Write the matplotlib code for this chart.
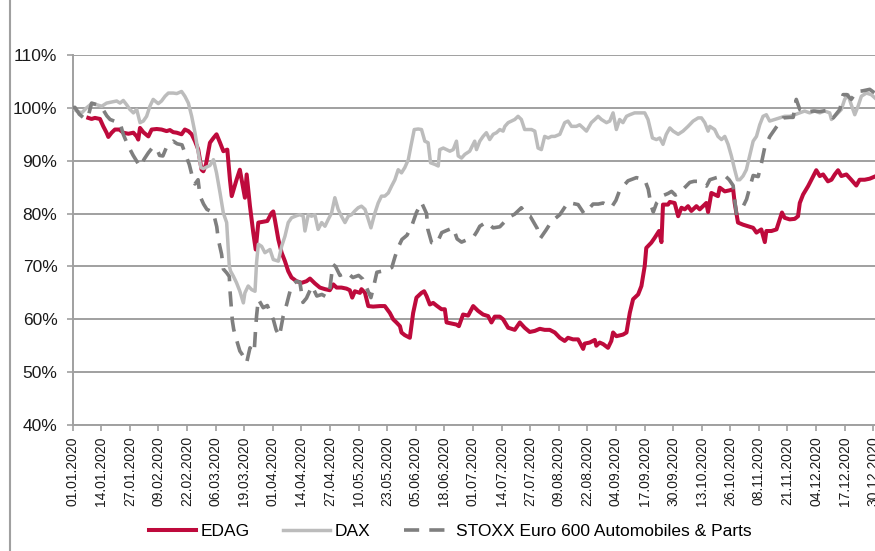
import matplotlib
matplotlib.use("Agg")
import matplotlib.pyplot as plt
import matplotlib.dates as mdates
from matplotlib.lines import Line2D
import numpy as np
import pandas as pd

plt.rcParams['font.family'] = ['Liberation Sans', 'DejaVu Sans']

# ---- data (day offset from 01.01.2020, value in %) ----
edag_days = [7.1, 8.6, 10.1, 12.4, 13.9, 15.4, 16.2, 17.7, 19.2, 21.2, 23.0, 25.3, 27.6, 29.1, 29.8, 30.6,
             32.1, 34.4, 35.9, 38.2, 40.4, 42.7, 44.2, 45.7, 47.3, 49.5, 51.0, 52.6, 54.1, 55.6, 57.1, 58.6,
             59.4, 60.6, 62.4, 64.0, 65.4, 67.0, 68.5, 70.3, 71.5, 72.3, 74.5, 76.0, 77.6, 78.3, 79.1, 80.6,
             82.1, 83.2, 84.4, 85.9, 88.5, 90.4, 91.2, 91.9, 93.5, 95.0, 96.5, 98.0, 99.5, 101.8, 104.1, 106.3,
             107.9, 110.1, 112.4, 114.7, 116.9, 118.5, 120.0, 122.2, 124.5, 126.0, 127.1, 128.3, 130.6, 131.3,
             132.9, 134.4, 136.6, 139.7, 141.9, 144.2, 145.7, 147.2, 148.8, 149.5, 151.0, 153.3, 154.8, 156.3,
             158.6, 159.8, 160.9, 162.4, 163.9, 165.4, 167.7, 169.2, 170.0, 172.2, 174.5, 175.6, 177.5, 179.8,
             182.1, 184.3, 186.6, 188.9, 190.4, 191.9, 194.2, 195.7, 198.0, 201.0, 203.3, 205.5, 207.8, 210.1,
             212.4, 214.6, 216.9, 219.2, 221.5, 223.7, 225.2, 227.5, 229.8, 232.1, 232.8, 235.1, 237.4, 238.1,
             239.6, 241.2, 243.4, 244.9, 245.7, 247.2, 250.2, 251.8, 253.3, 254.8, 257.1, 258.6, 260.1, 260.8,
             263.1, 264.6, 266.6, 267.7, 268.4, 270.7, 271.5, 273.7, 275.3, 276.8, 278.3, 279.8, 281.3, 283.6,
             285.1, 286.6, 288.1, 288.9, 290.4, 291.9, 293.4, 294.2, 296.5, 298.7, 300.3, 301.0, 302.5, 304.8,
             307.1, 309.4, 310.9, 313.1, 314.7, 315.4, 317.7, 320.0, 321.5, 322.5, 323.7, 326.0, 328.3, 329.8,
             330.6, 332.1, 334.4, 335.9, 338.1, 339.7, 341.2, 343.4, 345.0, 346.5, 348.0, 349.5, 351.8, 354.0,
             356.3, 357.8, 360.1, 362.4, 364.7]
edag_vals = [98.1, 97.9, 98.1, 97.9, 96.5, 95.3, 94.5, 95.3, 95.9, 95.9, 95.3, 95.1, 95.3, 94.6, 94.0, 96.2,
             95.4, 94.6, 95.9, 96.0, 95.9, 95.6, 95.8, 95.4, 95.3, 95.0, 95.9, 95.6, 95.0, 93.7, 92.1, 88.3,
             88.0, 89.3, 93.4, 94.3, 95.0, 93.4, 91.8, 92.1, 86.4, 83.3, 86.4, 88.3, 84.6, 83.0, 87.4, 81.4,
             76.4, 73.2, 78.3, 78.4, 78.6, 80.1, 80.4, 78.9, 75.1, 72.6, 71.0, 69.1, 67.9, 67.2, 66.9, 67.2,
             67.7, 66.8, 66.0, 65.7, 65.5, 66.6, 66.0, 66.0, 65.8, 65.5, 64.1, 65.3, 65.0, 65.7,
             65.0, 62.5, 62.4, 62.5, 62.5, 61.2, 60.0, 59.4, 58.7, 57.5, 57.0, 56.5, 61.2, 64.1,
             65.0, 65.3, 64.4, 62.8, 63.1, 62.6, 61.9, 61.9, 59.4, 59.2, 59.0, 58.7, 60.9, 60.7,
             62.5, 61.6, 60.9, 60.6, 59.4, 60.5, 60.5, 60.0, 58.4, 58.0, 59.4, 58.4, 57.6, 57.8,
             58.2, 58.0, 58.0, 57.5, 56.5, 55.9, 56.5, 56.2, 56.2, 54.4, 55.4, 55.6, 56.1, 55.0,
             55.6, 55.3, 54.6, 55.9, 57.5, 56.8, 57.1, 57.5, 61.2, 63.8, 64.7, 66.3, 70.1, 73.5,
             74.5, 75.4, 76.7, 74.6, 81.7, 81.7, 82.2, 82.0, 79.5, 81.1, 80.8, 81.4, 80.5, 81.4,
             80.8, 81.4, 82.0, 80.3, 83.9, 83.6, 83.3, 84.9, 84.2, 84.4, 84.6, 82.0, 78.3, 77.9,
             77.6, 77.3, 76.4, 77.0, 74.6, 76.7, 76.7, 77.0, 78.9, 80.2, 79.2, 78.9, 79.0, 79.5,
             82.0, 83.6, 85.2, 86.4, 88.2, 87.1, 87.4, 86.1, 86.4, 87.4, 88.2, 87.1, 87.4, 86.4,
             85.3, 86.4, 86.4, 86.6, 87.0]

dax_days = [0.0, 1.8, 4.1, 6.3, 8.6, 10.9, 13.2, 15.4, 17.7, 20.0, 21.5, 23.0, 24.5, 26.0, 27.6, 29.1,
            30.6, 32.1, 33.6, 35.1, 36.6, 38.9, 40.4, 42.0, 43.5, 45.7, 47.3, 49.5, 51.0, 52.6, 54.1, 55.6,
            57.1, 58.3, 59.4, 60.9, 62.4, 64.0, 65.4, 67.0, 68.5, 70.0, 71.2, 71.8, 73.0, 74.5, 76.0, 77.6,
            78.3, 79.8, 81.4, 82.9, 83.6, 84.4, 85.9, 87.4, 89.7, 91.2, 93.5, 95.0, 96.5, 98.0, 99.5, 101.8,
            103.3, 104.8, 105.6, 107.1, 108.6, 110.1, 111.6, 113.2, 114.7, 116.2, 117.7, 119.2, 120.7, 122.2,
            123.8, 125.3, 126.8, 128.3, 129.8, 131.3, 132.9, 134.4, 135.6, 137.4, 138.9, 140.4, 141.9, 143.5,
            145.0, 146.5, 148.0, 149.5, 151.0, 152.6, 153.8, 155.3, 157.1, 158.6, 160.1, 161.6, 162.7, 164.7,
            166.2, 166.9, 168.5, 170.0, 171.5, 173.0, 174.5, 175.3, 176.8, 178.3, 180.5, 182.8, 183.6, 185.1,
            186.6, 188.1, 189.6, 191.2, 192.7, 194.2, 195.7, 196.5, 198.0, 199.5, 201.0, 202.5, 204.0, 205.5,
            207.1, 208.6, 210.1, 211.6, 213.1, 214.6, 216.2, 217.7, 219.2, 221.5, 223.7, 225.2, 226.8, 229.0,
            230.5, 232.1, 233.6, 235.8, 237.4, 238.9, 240.4, 242.7, 244.2, 245.7, 247.2, 248.7, 250.2, 251.8,
            253.3, 255.5, 257.8, 260.1, 261.6, 263.6, 265.4, 266.9, 268.4, 269.9, 271.5, 273.0, 275.3, 277.5,
            279.8, 282.1, 284.4, 285.9, 287.4, 288.9, 289.7, 291.9, 293.4, 295.0, 296.5, 298.0, 299.5, 301.0,
            302.2, 303.3, 304.8, 306.3, 307.8, 309.4, 310.9, 312.4, 313.9, 315.4, 316.9, 319.2, 321.5, 323.7,
            326.0, 328.3, 330.6, 332.8, 335.1, 337.4, 339.7, 341.9, 344.2, 345.0, 346.5, 348.0, 349.5, 351.0,
            352.5, 354.0, 355.6, 357.1, 358.6, 360.9, 363.1, 364.7]
dax_vals = [100.0, 99.4, 99.05, 100.0, 100.8, 100.6, 100.3, 100.9, 101.1, 101.3, 100.9, 101.4, 100.6, 99.7, 99.05, 99.7,
            97.2, 97.5, 98.4, 100.3, 101.6, 100.8, 101.3, 102.2, 102.8, 102.8, 102.7, 103.1, 102.2, 100.9, 98.4, 95.3,
            91.5, 88.7, 88.5, 88.8, 89.1, 90.2, 87.7, 83.9, 80.1, 78.3, 70.1, 69.1, 68.2, 66.9, 65.3, 63.1,
            65.0, 66.3, 65.6, 65.3, 70.7, 74.2, 73.8, 72.6, 73.2, 71.3, 71.0, 73.8, 75.7, 78.3, 79.2, 79.6,
            79.8, 79.5, 76.7, 79.8, 79.5, 79.8, 77.0, 78.3, 77.6, 78.9, 80.1, 83.0, 80.8, 79.5,
            78.3, 79.5, 79.8, 80.5, 81.1, 81.4, 80.8, 78.9, 77.3, 80.1, 82.0, 83.3, 83.3, 83.9,
            85.2, 86.4, 88.3, 87.7, 88.7, 90.2, 92.8, 95.9, 96.0, 95.9, 93.7, 93.4, 89.6, 89.3,
            89.0, 92.1, 92.4, 92.1, 91.8, 92.1, 93.7, 90.9, 90.5, 91.2, 91.8, 93.7, 92.1, 93.7,
            94.6, 95.3, 94.0, 95.0, 95.3, 95.9, 95.6, 96.5, 97.2, 97.5, 97.8, 98.4, 97.8, 95.9,
            95.9, 95.9, 95.6, 92.4, 92.1, 94.6, 94.3, 94.6, 94.6, 95.0, 97.2, 97.5, 96.5, 96.5,
            96.8, 96.2, 95.6, 97.2, 97.8, 98.4, 97.8, 97.2, 97.5, 99.05, 95.9, 97.8, 97.2, 98.4,
            98.7, 99.05, 99.05, 99.05, 97.8, 94.3, 94.0, 94.3, 93.1, 95.0, 96.2, 95.6, 95.0, 95.6,
            96.5, 97.5, 98.1, 98.1, 97.2, 95.6, 96.5, 95.9, 94.6, 94.0, 94.6, 93.1, 90.9, 88.3,
            86.4, 86.4, 87.1, 88.3, 90.9, 93.7, 94.6, 96.8, 98.4, 98.7, 97.5, 97.8, 98.1, 98.4,
            98.4, 98.7, 99.05, 99.4, 99.05, 99.4, 99.05, 99.4, 99.05, 97.8, 98.4, 99.05, 99.7, 101.6,
            102.5, 100.6, 98.7, 100.3, 102.2, 102.8, 102.5, 101.9]

stoxx_days = [0.0, 1.0, 3.0, 5.6, 7.0, 8.6, 11.0, 13.9, 15.5, 17.0, 19.5, 21.5, 23.0, 25.0, 27.5, 30.6,
              32.5, 34.4, 36.5, 38.2, 39.5, 41.0, 42.9, 45.7, 47.5, 49.7, 51.0, 53.0, 54.8, 55.6, 57.0, 57.9,
              59.5, 61.0, 62.5, 64.0, 65.5, 66.2, 67.7, 68.5, 70.0, 71.2, 71.6, 72.2, 72.6, 73.2, 74.0, 76.0,
              77.0, 79.1, 80.6, 82.5, 83.2, 83.6, 84.4, 86.6, 88.5, 89.6, 91.2, 92.5, 94.0, 95.7, 97.2, 99.5,
              101.8, 103.3, 104.7, 106.3, 108.8, 111.0, 113.3, 115.5, 117.0, 118.3, 119.5, 121.5, 124.5, 127.4,
              130.0, 131.9, 134.3, 135.6, 137.0, 138.3, 140.6, 143.0, 145.1, 146.6, 148.0, 149.7, 152.0, 154.1,
              156.3, 158.6, 160.9, 161.5, 163.2, 165.5, 167.8, 170.0, 173.0, 174.8, 176.8, 179.0, 182.1, 183.8,
              185.1, 188.1, 191.2, 194.2, 196.5, 198.7, 201.0, 204.0, 206.3, 208.0, 211.2, 212.6, 215.1, 217.7,
              221.5, 225.2, 229.8, 232.5, 234.5, 236.6, 239.0, 241.2, 245.0, 247.0, 248.7, 252.5, 256.3, 260.1,
              261.7, 263.0, 264.0, 265.5, 268.4, 270.7, 272.3, 274.0, 276.0, 278.0, 280.6, 282.5, 284.4, 286.5,
              288.2, 289.7, 292.7, 296.5, 298.5, 300.3, 300.8, 301.8, 303.5, 305.0, 306.4, 307.9, 309.4, 311.7,
              313.2, 314.7, 317.0, 320.0, 323.0, 326.0, 327.6, 329.0, 330.6, 333.6, 336.7, 339.7, 342.7, 345.8,
              348.8, 350.3, 352.0, 354.0, 356.4, 359.0, 362.4, 364.7]
stoxx_vals = [100.0, 100.1, 98.8, 97.9, 98.3, 100.9, 100.6, 99.6, 98.5, 97.8, 97.4, 97.2, 95.0, 93.0, 91.0, 88.9,
              90.3, 91.5, 92.6, 92.3, 91.0, 90.9, 92.8, 93.7, 93.2, 93.0, 91.5, 89.3, 86.3, 85.6, 86.4, 83.3,
              81.8, 80.8, 80.5, 80.1, 77.5, 75.1, 72.3, 69.5, 68.8, 68.1, 65.0, 61.9, 59.7, 58.1, 56.8, 54.0,
              53.4, 51.8, 54.6, 53.7, 58.4, 60.6, 63.8, 62.2, 62.6, 61.5, 60.0, 58.0, 56.8, 60.6, 62.7, 66.4,
              67.2, 67.0, 63.2, 64.0, 66.3, 64.4, 64.7, 64.2, 66.0, 70.4, 70.0, 68.3, 68.9, 67.9,
              68.3, 67.6, 65.3, 64.1, 66.5, 68.9, 69.1, 69.4, 69.8, 71.9, 73.6, 75.1, 75.9, 77.6,
              80.2, 82.1, 80.0, 77.0, 74.5, 74.3, 76.4, 76.8, 77.3, 75.2, 74.6, 75.0, 75.5, 76.6,
              77.6, 78.4, 77.3, 77.5, 78.5, 79.4, 79.9, 81.1, 79.8, 79.5, 77.2, 75.3, 76.8, 78.5,
              79.8, 82.1, 81.7, 80.0, 80.8, 81.8, 81.8, 82.0, 81.2, 82.5, 84.4, 86.2, 86.8, 86.4,
              84.6, 81.5, 80.3, 82.0, 83.4, 83.8, 84.2, 83.5, 83.9, 84.8, 85.9, 86.1, 86.1, 85.5,
              85.2, 86.4, 86.8, 87.2, 86.4, 85.3, 83.3, 80.0, 80.5, 81.5, 82.7, 85.0, 87.2, 87.0,
              89.6, 92.6, 94.6, 96.4, 98.1, 98.2, 98.2, 101.6, 99.7, 99.2, 99.4, 99.3, 99.5, 98.1,
              99.7, 102.5, 102.5, 101.6, 103.1, 103.2, 103.5, 102.8]

series_names = ["EDAG", "DAX", "STOXX Euro 600 Automobiles & Parts"]

tick_labels = ["01.01.2020", "14.01.2020", "27.01.2020", "09.02.2020", "22.02.2020", "06.03.2020",
               "19.03.2020", "01.04.2020", "14.04.2020", "27.04.2020", "10.05.2020", "23.05.2020",
               "05.06.2020", "18.06.2020", "01.07.2020", "14.07.2020", "27.07.2020", "09.08.2020",
               "22.08.2020", "04.09.2020", "17.09.2020", "30.09.2020", "13.10.2020", "26.10.2020",
               "08.11.2020", "21.11.2020", "04.12.2020", "17.12.2020", "30.12.2020"]
y_ticks = [40, 50, 60, 70, 80, 90, 100, 110]
y_labels = ["40%", "50%", "60%", "70%", "80%", "90%", "100%", "110%"]

# ---- plot ----
W, H = 875, 551
fig = plt.figure(figsize=(W / 100, H / 100), dpi=100)
ax = fig.add_axes([72.7 / W, 1 - 425 / H, 1 - 72.7 / W, (425 - 55) / H])

base = mdates.date2num(pd.Timestamp("2020-01-01"))
to_num = lambda d: base + np.asarray(d, dtype=float)

grey = "#a0a0a0"
ax.plot(to_num(edag_days), edag_vals, color="#BE0A3C", lw=2.9, solid_joinstyle="round",
        label=series_names[0], zorder=3)
ax.plot(to_num(dax_days), dax_vals, color="#BCBCBC", lw=2.5, solid_joinstyle="round",
        label=series_names[1], zorder=3)
ax.plot(to_num(stoxx_days), stoxx_vals, color="#7F7F7F", lw=2.6, dashes=(4.2, 2.8),
        label=series_names[2], zorder=3)

ax.set_ylim(40, 110)
ax.set_xlim(base, base + 364.8)
ax.set_yticks(y_ticks)
ax.set_yticklabels(y_labels)
tick_pos = [mdates.date2num(pd.to_datetime(t, format="%d.%m.%Y")) for t in tick_labels]
ax.set_xticks(tick_pos)
ax.set_xticklabels(tick_labels, rotation=90)

ax.yaxis.grid(True, color=grey, lw=1.4)
ax.set_axisbelow(True)
for s in ["top", "right"]:
    ax.spines[s].set_visible(False)
for s in ["left", "bottom"]:
    ax.spines[s].set_color(grey)
    ax.spines[s].set_linewidth(1.4)
ax.tick_params(axis="y", length=4, width=1.2, color=grey, pad=7, labelsize=12.5, labelcolor="#1a1a1a")
ax.tick_params(axis="x", length=4, width=1.2, color=grey, pad=4, labelsize=10, labelcolor="#1a1a1a")

leg = fig.legend(loc="center", bbox_to_anchor=(450 / W, 1 - 531 / H), ncol=3, frameon=False,
                 fontsize=12.5, handlelength=2.7, handletextpad=0.3, columnspacing=1.9)

fig.add_artist(Line2D([10 / W, 10 / W], [0, 1], transform=fig.transFigure, color=grey, lw=1.5))

fig.savefig("out.png", dpi=100)
